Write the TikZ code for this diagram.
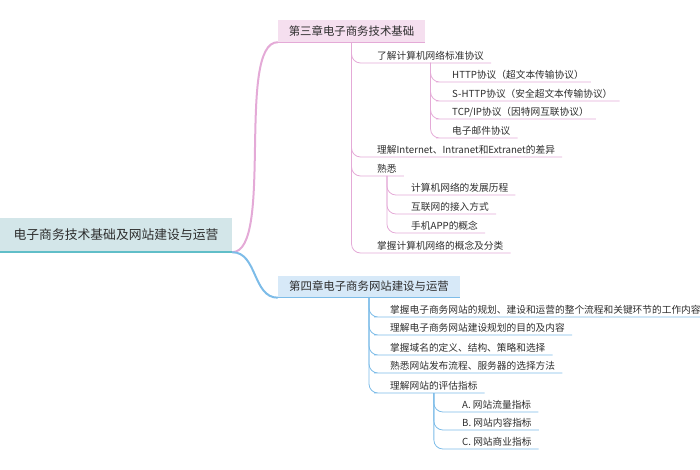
\documentclass[tikz,border=0pt]{standalone}
\usepackage{fontspec}
\setmainfont{Noto Sans CJK SC}
\usetikzlibrary{positioning}
\definecolor{mmtext}{RGB}{45,45,45}
\definecolor{rootfill}{RGB}{211,230,233}
\definecolor{rootline}{RGB}{96,190,200}
\definecolor{pinkline}{RGB}{228,170,215}
\definecolor{pinkfill}{RGB}{245,223,239}
\definecolor{blueline}{RGB}{125,188,232}
\definecolor{bluefill}{RGB}{215,233,248}

\begin{document}
\begin{tikzpicture}[x=1pt, y=-1pt,
  rootbox/.style={fill=rootfill, text=mmtext, minimum width=232pt, minimum height=34pt, inner sep=0pt, font=\fontsize{12.8}{14}\selectfont},
  chapbox/.style={text=mmtext, minimum height=22pt, inner sep=0pt, font=\fontsize{11.4}{13}\selectfont},
  leaf/.style={anchor=south west, text=mmtext, inner xsep=7pt, inner ysep=2pt, text height=8pt, text depth=1.5pt, font=\fontsize{9.7}{11}\selectfont},
  trunk/.style={line width=2pt},
  twig/.style={line width=0.8pt, rounded corners=9pt}
]
  \useasboundingbox (0,0) rectangle (700,470);

  % root and chapters
  \node[rootbox] (root) at (116,235) {电子商务技术基础及网站建设与运营};
  \node[chapbox, fill=pinkfill, minimum width=147pt] (ch3) at (351.5,31) {第三章电子商务技术基础};
  \node[chapbox, fill=bluefill, minimum width=182pt] (ch4) at (369,286.5) {第四章电子商务网站建设与运营};

  \draw[trunk, pinkline] (root.south east) to[out=0, in=180, looseness=0.5] (ch3.south west);
  \draw[trunk, blueline] (root.south east) to[out=0, in=180] (ch4.south west);
  \draw[rootline, line width=2.5pt] (root.south west) -- (root.south east);
  \draw[pinkline, line width=1pt] (ch3.south west) -- (ch3.south east);
  \draw[blueline, line width=1pt] (ch4.south west) -- (ch4.south east);

  % chapter 3
  \node[leaf] (k1) at (370,63) {了解计算机网络标准协议};
  \node[leaf] (k11) at (445,82) {HTTP协议（超文本传输协议）};
  \node[leaf] (k12) at (445,101) {S-HTTP协议（安全超文本传输协议）};
  \node[leaf] (k13) at (445,119) {TCP/IP协议（因特网互联协议）};
  \node[leaf] (k14) at (445,138) {电子邮件协议};
  \node[leaf] (k2) at (370,157) {理解Internet、Intranet和Extranet的差异};
  \node[leaf] (k3) at (370,176) {熟悉};
  \node[leaf] (k31) at (404,195) {计算机网络的发展历程};
  \node[leaf] (k32) at (404,214) {互联网的接入方式};
  \node[leaf] (k33) at (404,233) {手机APP的概念};
  \node[leaf] (k4) at (370,253) {掌握计算机网络的概念及分类};

  \foreach \p/\c in {ch3/k1, ch3/k2, ch3/k3, ch3/k4, k1/k11, k1/k12, k1/k13, k1/k14, k3/k31, k3/k32, k3/k33}
    \draw[twig, pinkline] (\p.south) |- (\c.south west) -- (\c.south east);

  % chapter 4
  \node[leaf] (w1) at (383,317) {掌握电子商务网站的规划、建设和运营的整个流程和关键环节的工作内容};
  \node[leaf] (w2) at (383,335) {理解电子商务网站建设规划的目的及内容};
  \node[leaf] (w3) at (383,355) {掌握域名的定义、结构、策略和选择};
  \node[leaf] (w4) at (383,373) {熟悉网站发布流程、服务器的选择方法};
  \node[leaf] (w5) at (383,393) {理解网站的评估指标};
  \node[leaf] (w51) at (455,412) {A. 网站流量指标};
  \node[leaf] (w52) at (455,430) {B. 网站内容指标};
  \node[leaf] (w53) at (455,449) {C. 网站商业指标};

  \foreach \p/\c in {ch4/w1, ch4/w2, ch4/w3, ch4/w4, ch4/w5, w5/w51, w5/w52, w5/w53}
    \draw[twig, blueline] (\p.south) |- (\c.south west) -- (\c.south east);
\end{tikzpicture}
\end{document}
